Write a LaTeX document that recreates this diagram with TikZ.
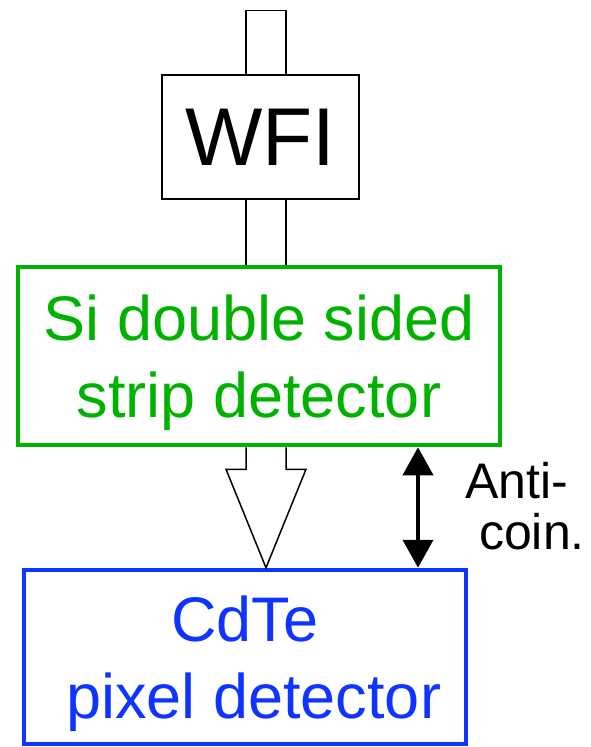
\documentclass[tikz,border=0pt]{standalone}
\usepackage{fontspec}
\setmainfont{Liberation Sans}
\usetikzlibrary{arrows.meta,calc}
\definecolor{sigreen}{RGB}{0,178,0}
\definecolor{cdblue}{RGB}{16,52,255}

\begin{document}
\begin{tikzpicture}[x=1pt,y=-1pt,
        box/.style={shape=rectangle,inner sep=0pt,align=center},
        bigtext/.style={inner sep=0pt,align=center,font=\fontsize{63}{77}\selectfont}]
    \useasboundingbox (0,0) rectangle (590,747);

    \node[box,draw=black,line width=1.5pt,minimum width=197pt,minimum height=124pt,
          font=\fontsize{82}{90}\selectfont] (wfi) at (260.5,137) {WFI};
    \node[box,draw=sigreen,line width=4.5pt,
          minimum width=482pt,minimum height=178pt] (si) at (259,356) {};
    \node[bigtext,text=sigreen] (sitext) at ([yshift=-6.5pt]si.center)
          {Si double sided\\strip detector};
    \node[box,draw=cdblue,line width=4.5pt,
          minimum width=442pt,minimum height=174pt] (cdte) at (245,657) {};
    \node[bigtext,text=cdblue] (cdtetext) at ([yshift=-6.5pt]cdte.center)
          {CdTe\\\hspace*{.278em}pixel detector};

    \coordinate (s) at (266,0);
    \coordinate (ac) at (418,0);

    % beam into and through WFI
    \draw[line width=1.5pt] ($(wfi.north -| s)+(-20,0)$) -- ++(0,-64) -- ++(40,0)
          -- ($(wfi.north -| s)+(20,0)$);
    \draw[line width=1.5pt] ($(wfi.south -| s)+(-20,0)$) -- ($(si.north -| s)+(-20,0)$);
    \draw[line width=1.5pt] ($(wfi.south -| s)+(20,0)$) -- ($(si.north -| s)+(20,0)$);

    % hollow arrow down to CdTe
    \draw[line width=1.5pt,line join=miter] ($(si.south -| s)+(-20,0)$) -- ++(0,22) -- ++(-20,0)
          -- (cdte.north -| s) -- ($(si.south -| s)+(40,22)$) -- ++(-20,0)
          -- ($(si.south -| s)+(20,0)$);

    % anti-coincidence
    \draw[line width=4pt,{Triangle[width=30pt,length=28pt]}-{Triangle[width=30pt,length=28pt]}]
          (si.south -| ac) -- (cdte.north -| ac);
    \node[inner sep=0pt,align=left,anchor=base west,
          font=\fontsize{50}{51}\selectfont] (anti) at (465,549)
          {Anti-\\\hspace*{.278em}coin.};
\end{tikzpicture}
\end{document}
